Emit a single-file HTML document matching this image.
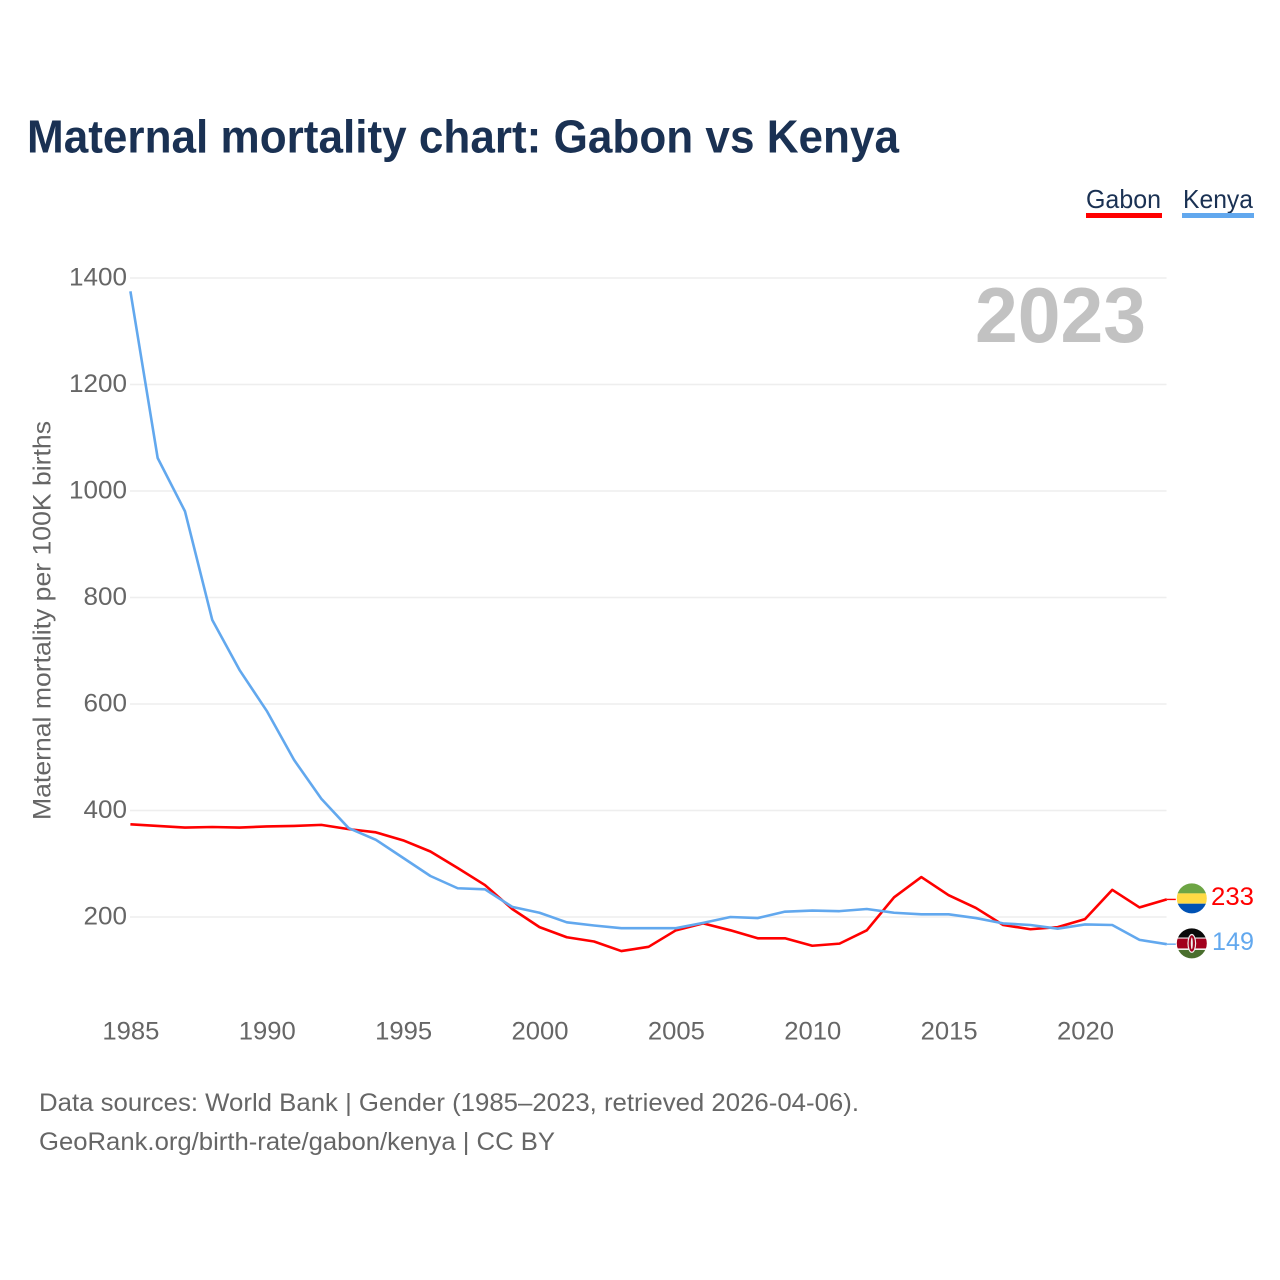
<!DOCTYPE html>
<html lang="en">
<head>
<meta charset="utf-8">
<title>Maternal mortality chart: Gabon vs Kenya</title>
<style>
html,body{margin:0;padding:0;background:#fff;}
svg{display:block;font-family:"Liberation Sans",sans-serif;}
</style>
</head>
<body>
<svg id="chart" xmlns="http://www.w3.org/2000/svg" width="1280" height="1280" viewBox="0 0 1280 1280">
  <rect x="0" y="0" width="1280" height="1280" fill="#ffffff"/>
  <text x="27" y="152.5" font-size="46" font-weight="700" fill="#1a3153" textLength="872" lengthAdjust="spacingAndGlyphs">Maternal mortality chart: Gabon vs Kenya</text>

  <g id="gridlines"></g>
  <g id="y-ticks"></g>
  <g id="x-ticks"></g>

  <text transform="translate(50.5,620.5) rotate(-90)" text-anchor="middle" font-size="25" fill="#666666" textLength="399" lengthAdjust="spacingAndGlyphs">Maternal mortality per 100K births</text>
  <text id="year-label" x="975" y="342" font-size="78" font-weight="700" fill="#c2c2c2" textLength="171" lengthAdjust="spacingAndGlyphs"></text>

  <g id="series"></g>

  <g>
    <text x="1086" y="208" font-size="26" fill="#1a3153" textLength="75" lengthAdjust="spacingAndGlyphs">Gabon</text>
    <rect x="1086" y="213" width="76" height="5" fill="#ff0000"/>
  </g>
  <g>
    <text x="1183" y="208" font-size="26" fill="#1a3153" textLength="70" lengthAdjust="spacingAndGlyphs">Kenya</text>
    <rect x="1182" y="213" width="72" height="5" fill="#62a8ee"/>
  </g>

  <defs>
    <clipPath id="clip-flag-gabon"><circle cx="1191.8" cy="898.4" r="15"/></clipPath>
    <clipPath id="clip-flag-kenya"><circle cx="1191.8" cy="943.4" r="15"/></clipPath>
  </defs>
  <g clip-path="url(#clip-flag-gabon)">
    <rect x="1175" y="882" width="34" height="11.4" fill="#6da544"/>
    <rect x="1175" y="893.4" width="34" height="10.3" fill="#ffda44"/>
    <rect x="1175" y="903.7" width="34" height="11" fill="#0052b4"/>
  </g>
  <g clip-path="url(#clip-flag-kenya)">
    <rect x="1175" y="927" width="34" height="10.5" fill="#0a0a0a"/>
    <rect x="1175" y="937.5" width="34" height="12.5" fill="#f0f0f0"/>
    <rect x="1175" y="938.6" width="34" height="9.8" fill="#a2001d"/>
    <rect x="1175" y="950" width="34" height="10" fill="#496e2d"/>
    <ellipse cx="1191.8" cy="943.4" rx="4.4" ry="9.5" fill="#f0f0f0"/>
    <ellipse cx="1191.8" cy="943.4" rx="3.2" ry="8.2" fill="#a2001d"/>
    <ellipse cx="1191.8" cy="943.4" rx="1" ry="6" fill="#f0f0f0"/>
  </g>
  <text id="end-label-gabon" x="1211" y="905" font-size="25" fill="#ff0000" textLength="43" lengthAdjust="spacingAndGlyphs"></text>
  <text id="end-label-kenya" x="1212" y="950" font-size="25" fill="#62a8ee" textLength="42" lengthAdjust="spacingAndGlyphs"></text>

  <text x="39" y="1111" font-size="25" fill="#666666" textLength="820" lengthAdjust="spacingAndGlyphs">Data sources: World Bank | Gender (1985–2023, retrieved 2026-04-06).</text>
  <text x="39" y="1150" font-size="25" fill="#666666" textLength="516" lengthAdjust="spacingAndGlyphs">GeoRank.org/birth-rate/gabon/kenya | CC BY</text>
</svg>
<script>
const years = [1985,1986,1987,1988,1989,1990,1991,1992,1993,1994,1995,1996,1997,1998,1999,2000,2001,2002,2003,2004,2005,2006,2007,2008,2009,2010,2011,2012,2013,2014,2015,2016,2017,2018,2019,2020,2021,2022,2023];
const gabonValues = [374,371,368,369,368,370,371,373,365,359,344,323,292,260,215,181,162,154,136,144,175,188,175,160,160,146,150,175,237,275,241,217,185,177,181,196,251,218,233];
const kenyaValues = [1375,1062,962,758,664,587,495,422,367,345,311,277,254,252,219,208,190,184,179,179,179,189,200,198,210,212,211,215,208,205,205,198,188,185,178,186,185,157,149];
const yTickLabels = [200,400,600,800,1000,1200,1400];
const xTickLabels = [1985,1990,1995,2000,2005,2010,2015,2020];

const NS = 'http://www.w3.org/2000/svg';
function xScale(year) { return 130.4 + (year - 1985) * (1036.4 / 38); }
function yScale(value) { return 1023.5 - value * 0.5325; }

const gridGroup = document.getElementById('gridlines');
const yTickGroup = document.getElementById('y-ticks');
const xTickGroup = document.getElementById('x-ticks');
const seriesGroup = document.getElementById('series');

yTickLabels.forEach(function (tick) {
  const line = document.createElementNS(NS, 'line');
  
  
  line.setAttribute('x1', 130);
  line.setAttribute('x2', 1166.5);
  line.setAttribute('y1', yScale(tick));
  line.setAttribute('y2', yScale(tick));
  line.setAttribute('stroke', '#eeeeee');
  line.setAttribute('stroke-width', 1.6);
  gridGroup.appendChild(line);

  const label = document.createElementNS(NS, 'text');
  
  
  label.setAttribute('x', 127);
  label.setAttribute('y', yScale(tick) + 7.5);
  label.setAttribute('text-anchor', 'end');
  label.setAttribute('font-size', 25);
  label.setAttribute('fill', '#666666');
  label.setAttribute('textLength', String(tick).length * 14.5);
  label.setAttribute('lengthAdjust', 'spacingAndGlyphs');
  label.textContent = tick;
  yTickGroup.appendChild(label);
});

xTickLabels.forEach(function (tick) {
  const label = document.createElementNS(NS, 'text');
  
  
  label.setAttribute('x', xScale(tick) + 0.5);
  label.setAttribute('y', 1039.5);
  label.setAttribute('text-anchor', 'middle');
  label.setAttribute('font-size', 25);
  label.setAttribute('fill', '#666666');
  label.setAttribute('textLength', 57);
  label.setAttribute('lengthAdjust', 'spacingAndGlyphs');
  label.textContent = tick;
  xTickGroup.appendChild(label);
});

function drawSeries(name, values, color) {
  const pts = values.map(function (v, i) { return xScale(years[i]).toFixed(2) + ',' + yScale(v).toFixed(2); });
  const line = document.createElementNS(NS, 'polyline');
  
  
  line.setAttribute('points', pts.join(' '));
  line.setAttribute('fill', 'none');
  line.setAttribute('stroke', color);
  line.setAttribute('stroke-width', 2.6);
  line.setAttribute('stroke-linejoin', 'round');
  seriesGroup.appendChild(line);

  const lastIndex = values.length - 1;
  const tail = document.createElementNS(NS, 'line');
  
  
  tail.setAttribute('x1', xScale(years[lastIndex]));
  tail.setAttribute('x2', xScale(years[lastIndex]) + 9);
  tail.setAttribute('y1', yScale(values[lastIndex]));
  tail.setAttribute('y2', yScale(values[lastIndex]));
  tail.setAttribute('stroke', color);
  tail.setAttribute('stroke-width', 1.4);
  seriesGroup.appendChild(tail);
}
drawSeries('gabon', gabonValues, '#ff0000');
drawSeries('kenya', kenyaValues, '#62a8ee');

document.getElementById('year-label').textContent = years[years.length - 1];
document.getElementById('end-label-gabon').textContent = gabonValues[gabonValues.length - 1];
document.getElementById('end-label-kenya').textContent = kenyaValues[kenyaValues.length - 1];
</script>
</body>
</html>
